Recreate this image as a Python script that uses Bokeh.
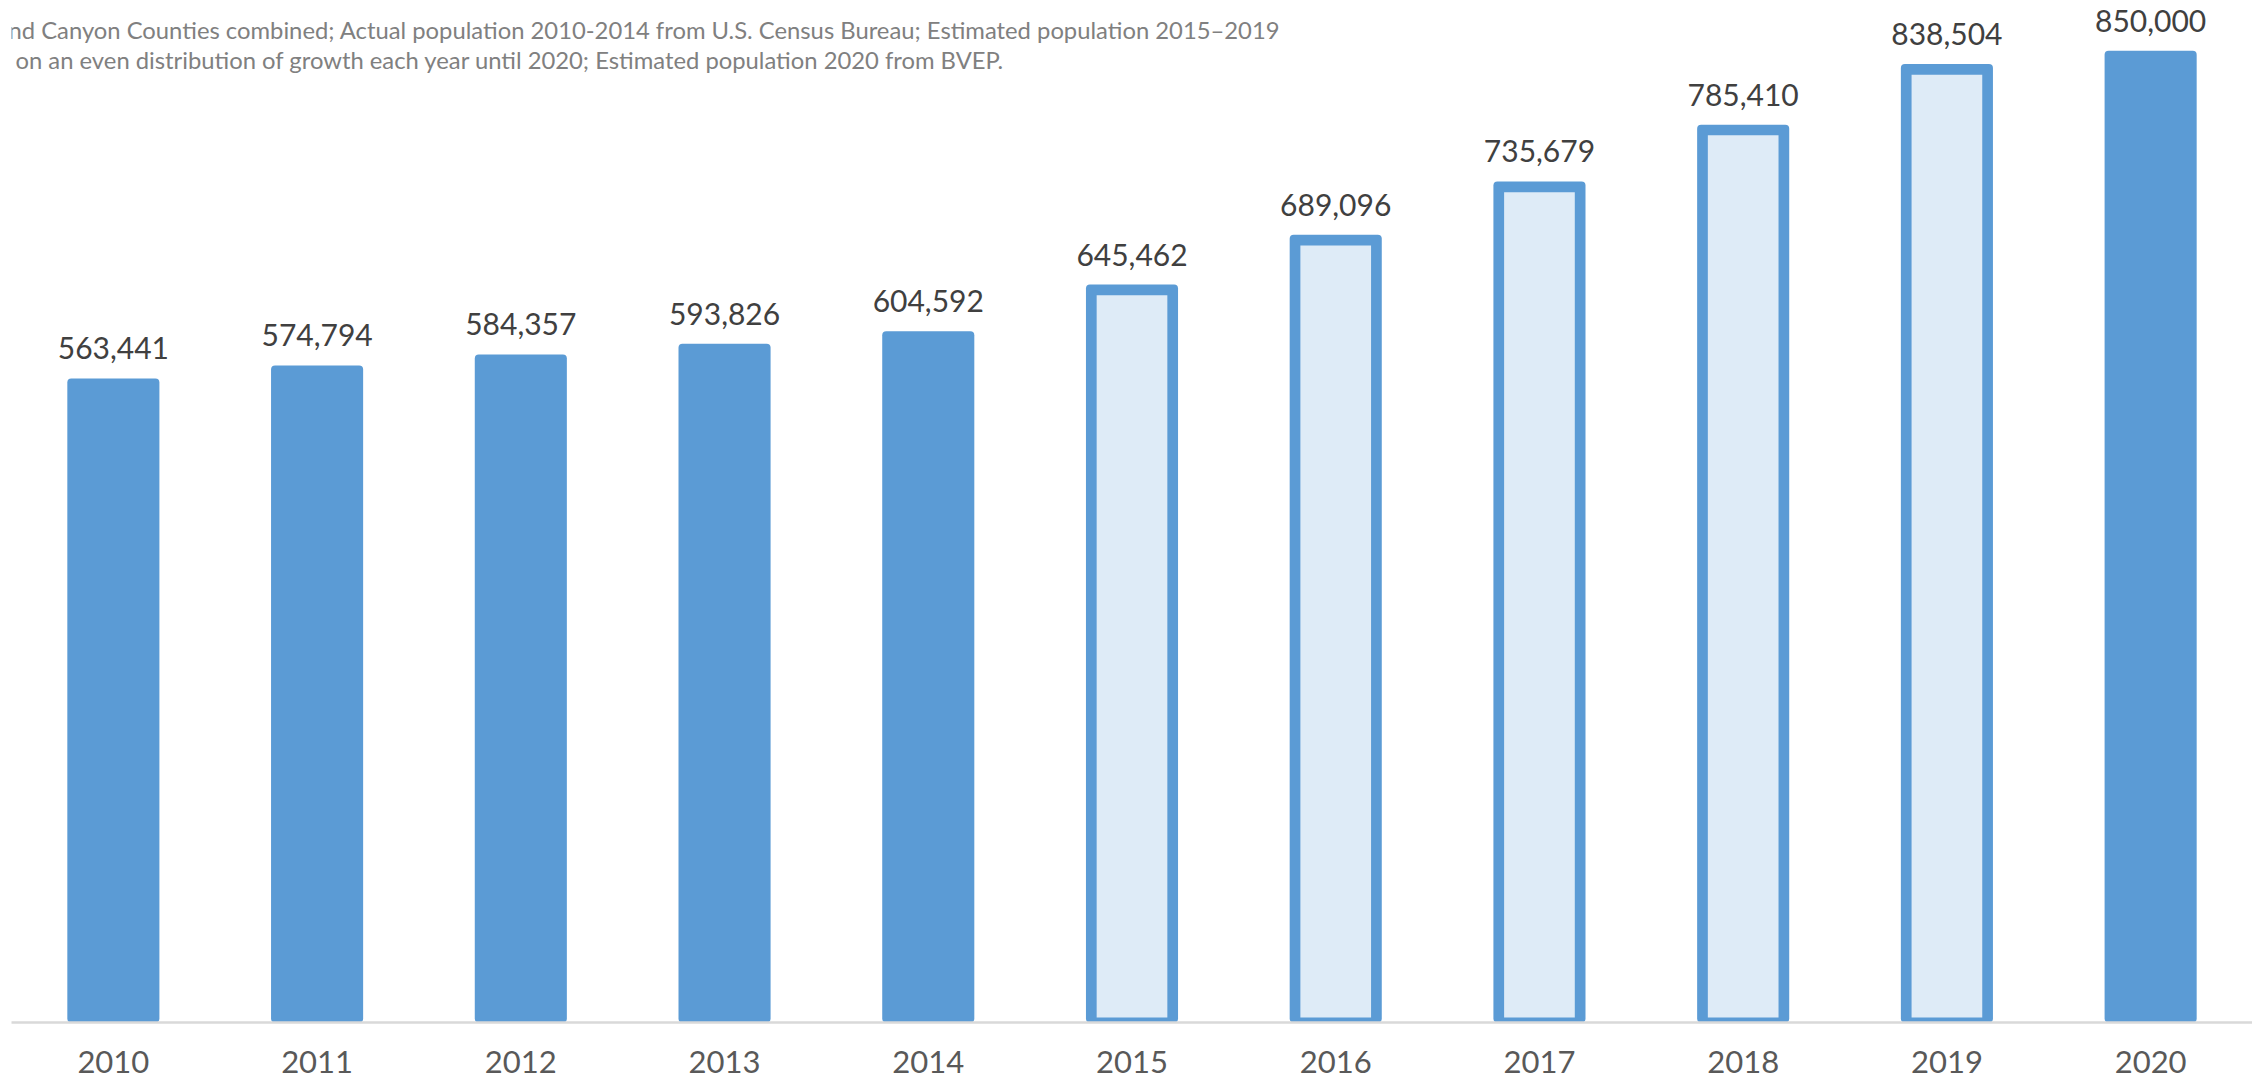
from bokeh.plotting import figure
from bokeh.models import ColumnDataSource, FactorRange, Range1d, LabelSet, Label
from bokeh.core.properties import value
from bokeh.embed import file_html
from bokeh.resources import INLINE

# ---- data ----
years = ["2010", "2011", "2012", "2013", "2014", "2015", "2016", "2017", "2018", "2019", "2020"]
population = [563441, 574794, 584357, 593826, 604592, 645462, 689096, 735679, 785410, 838504, 850000]
estimated = [False, False, False, False, False, True, True, True, True, True, False]
value_labels = [f"{v:,}" for v in population]
note_line1 = ("nd Canyon Counties combined; Actual population 2010-2014 from U.S. Census Bureau; "
              "Estimated population 2015\u20132019")
note_line2 = "on an even distribution of growth each year until 2020; Estimated population 2020 from BVEP."

# ---- layout constants ----
W, H = 2252, 1081
LEFT = 11
BOTTOM = 59
FRAME_H = H - BOTTOM
FRAME_W = W - LEFT
Y_END = 894000
px_per_unit = FRAME_H / Y_END
cat_px = FRAME_W / len(years)
BAR_W = 0.452
STROKE_PX = 10.7

DARK = "#5B9BD5"
LIGHT = "#DEEBF7"
FONT = "Lato"

src_all = ColumnDataSource(dict(year=years, pop=population, label=value_labels))

est_years = [y for y, e in zip(years, estimated) if e]
est_pop = [p for p, e in zip(population, estimated) if e]
src_est = ColumnDataSource(dict(
    year=est_years,
    top=[p - STROKE_PX / px_per_unit for p in est_pop],
    bottom=[5.0 / px_per_unit for _ in est_pop],
))

p = figure(x_range=FactorRange(*years), y_range=Range1d(0, Y_END),
           width=W, height=H, output_backend="svg", toolbar_location=None,
           y_axis_location=None, min_border_left=LEFT, min_border_right=0,
           min_border_top=0, min_border_bottom=BOTTOM)
p.outline_line_color = None
p.xgrid.visible = False
p.ygrid.visible = False
p.background_fill_color = "white"
p.border_fill_color = "white"

p.vbar(x="year", top="pop", bottom=0, width=BAR_W, source=src_all,
       fill_color=DARK, line_color=None, border_radius=4)
p.vbar(x="year", top="top", bottom="bottom", width=BAR_W - 2 * STROKE_PX / cat_px,
       source=src_est, fill_color=LIGHT, line_color=None)

labels = LabelSet(x="year", y="pop", text="label", source=src_all, y_offset=19,
                  text_align="center", text_baseline="alphabetic",
                  text_font=value(FONT), text_font_size="30px", text_color="#404040")
p.add_layout(labels)

for txt, x0, base in ((note_line1, 8, 29), (note_line2, 15, 59)):
    p.add_layout(Label(x=x0 - LEFT, y=FRAME_H - base, x_units="screen", y_units="screen", text=txt,
                       text_baseline="alphabetic", text_align="left",
                       text_font=FONT, text_font_size="23.8px", text_color="#808080"))

ax = p.xaxis[0]
ax.axis_line_color = "#D9D9D9"
ax.axis_line_width = 2.5
ax.major_tick_line_color = None
ax.minor_tick_line_color = None
ax.major_tick_out = 0
ax.major_tick_in = 0
ax.major_label_standoff = 28
ax.major_label_text_font = FONT
ax.major_label_text_font_size = "31px"
ax.major_label_text_line_height = 0.8
ax.major_label_text_color = "#595959"

open("out.html", "w").write(file_html(p, INLINE))
